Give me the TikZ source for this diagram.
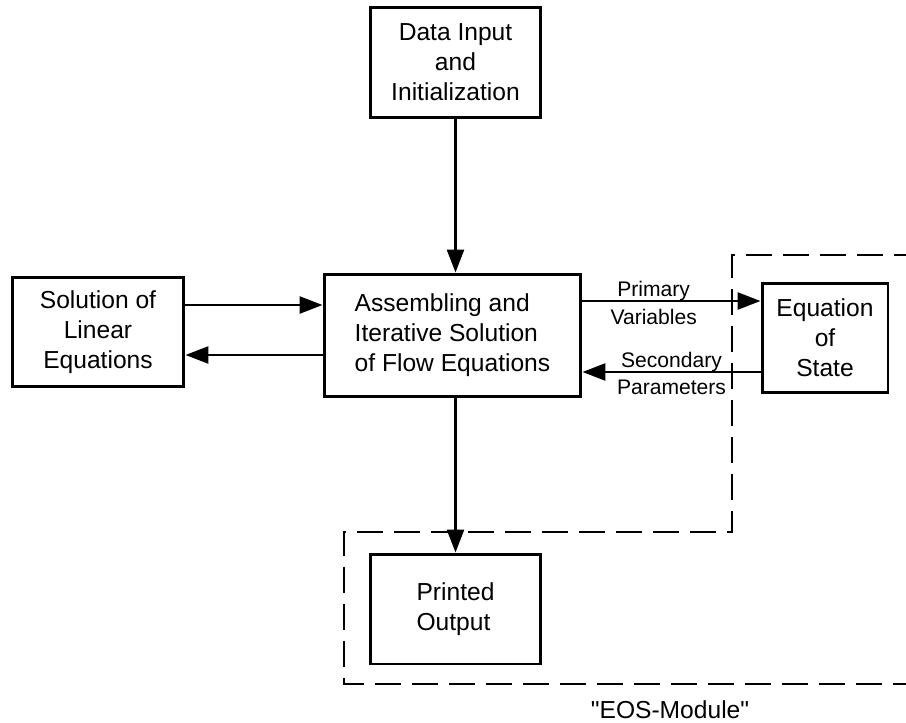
\documentclass[tikz,border=0pt]{standalone}
\usepackage{fontspec}
\setmainfont{Liberation Sans}[Ligatures=TeXOff]
\usetikzlibrary{positioning,arrows.meta}

\begin{document}
\begin{tikzpicture}[x=0.02cm, y=-0.02cm,
  block/.style={draw, line width=1.7pt, align=center, inner sep=0pt,
    font=\fontsize{14pt}{17pt}\selectfont},
  arr/.style={line width=1.5pt, -{Triangle[length=0.46cm, width=0.34cm]}},
  lbl/.style={font=\fontsize{12pt}{14pt}\selectfont, inner sep=1.5pt, yshift=-0.08cm},
  module/.style={line width=1.6pt, dash pattern=on 0.52cm off 0.22cm}]
\useasboundingbox (0,0) rectangle (906,723);

\node[block, minimum width=3.42cm, minimum height=2.22cm] (data) at (455.5,62.5)
  {Data Input\\and\\Initialization};
\node[block, minimum width=3.44cm, minimum height=2.2cm] (sol) at (98,332)
  {Solution of\\Linear\\Equations};
\node[block, align=left, minimum width=5.14cm, minimum height=2.46cm] (asm) at (452.5,335.5)
  {Assembling and\\Iterative Solution\\of Flow Equations};
\node[block, minimum width=2.52cm, minimum height=2.2cm] (eos) at (825,338)
  {Equation\\of\\State};
\node[block, align=left, minimum width=3.42cm, minimum height=2.2cm] (prt) at (455.5,609)
  {Printed\\Output};

\draw[module] (920,255) -| (732,532) -| (344,684) -- (930,684);
\node[font=\fontsize{14pt}{17pt}\selectfont] (modname) at (670,710) {"EOS-Module"};

\draw[arr] (data.south) -- (data.south |- asm.north);
\draw[arr] ([yshift=0.54cm]sol.east) -- ([yshift=0.54cm]sol.east -| asm.west);
\draw[arr] ([yshift=-0.46cm]sol.east -| asm.west) -- ([yshift=-0.46cm]sol.east);
\draw[arr] ([yshift=0.69cm]asm.east) -- ([yshift=0.69cm]asm.east -| eos.west)
  node[lbl, pos=0.4, above] {Primary}
  node[lbl, pos=0.4, below] {Variables};
\draw[arr] ([yshift=-0.73cm]asm.east -| eos.west) -- ([yshift=-0.73cm]asm.east)
  node[lbl, midway, above] {Secondary}
  node[lbl, midway, below] {Parameters};
\draw[arr] (asm.south -| prt.north) -- (prt.north);
\end{tikzpicture}
\end{document}
